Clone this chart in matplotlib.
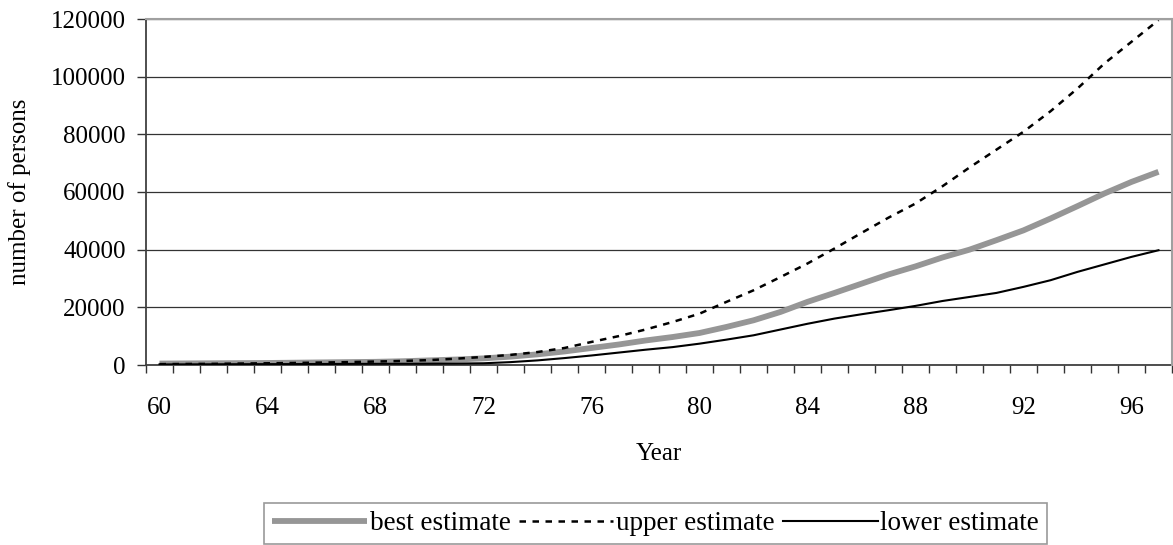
import matplotlib.pyplot as plt
import numpy as np

plt.rcParams['font.family'] = ['Liberation Serif', 'DejaVu Serif']

years = list(range(60, 98))
best = [500, 550, 600, 650, 700, 800, 900, 1000, 1100, 1300,
        1600, 1900, 2300, 2900, 3700, 4700, 5900, 7100, 8500, 9700,
        11100, 13200, 15500, 18400, 21900, 25000, 28200, 31400, 34200, 37300,
        40000, 43300, 46700, 50800, 55100, 59500, 63500, 67000]
upper = [300, 350, 400, 500, 600, 700, 850, 1000, 1200, 1400,
         1700, 2200, 2800, 3500, 4500, 5900, 8000, 10000, 12300, 14900,
         17800, 21900, 25900, 30500, 35200, 40400, 45800, 51100, 56000, 62000,
         68500, 74700, 80900, 88000, 95900, 104600, 112100, 119600]
lower = [200, 220, 250, 280, 300, 320, 350, 380, 400, 420,
         450, 500, 600, 1000, 1600, 2400, 3300, 4300, 5300, 6200,
         7400, 8800, 10300, 12300, 14300, 16100, 17600, 19000, 20500, 22200,
         23600, 25000, 27100, 29400, 32300, 34900, 37500, 39800]
y_ticks = np.arange(0, 120001, 20000)

fig = plt.figure(figsize=(11.73, 5.45), dpi=100)
ax = fig.add_axes([146 / 1173, 1 - 365 / 545, (1172 - 146) / 1173, (365 - 19) / 545])

# Excel-like category axis: points at category centres
x = np.arange(len(years)) + 0.5
ax.plot(x, best, color='#969696', lw=4.2, label='best estimate', solid_capstyle='butt', zorder=3)
ax.plot(x, upper, color='black', lw=1.8, dashes=(2.6, 2.6), label='upper estimate', zorder=4)
ax.plot(x, lower, color='black', lw=1.5, label='lower estimate', zorder=4)

ax.set_xlim(0, len(years))
ax.set_ylim(0, 120000)
ax.set_yticks(y_ticks)
ax.set_yticklabels([str(v) for v in y_ticks])
ax.yaxis.grid(True, color='#333333', lw=0.9)
ax.set_axisbelow(True)

lab_idx = np.arange(0, len(years), 4)
ax.set_xticks(lab_idx + 0.5)
ax.set_xticklabels([str(years[i]) for i in lab_idx])
ax.set_xticks(np.arange(0, len(years) + 1), minor=True)
ax.tick_params(axis='x', which='major', length=0, pad=23, labelsize=18)
ax.tick_params(axis='x', which='minor', direction='out', length=6, width=1, color='#333333')
ax.tick_params(axis='y', direction='out', length=6.5, width=1, pad=8, labelsize=18, color='#333333')

for s in ['left', 'bottom']:
    ax.spines[s].set_color('#404040')
    ax.spines[s].set_linewidth(1.3)
for s in ['top', 'right']:
    ax.spines[s].set_color('#a0a0a0')
    ax.spines[s].set_linewidth(1.5)
    ax.spines[s].set_zorder(5)

ax.set_xlabel('Year', fontsize=18, labelpad=17)
ax.set_ylabel('number of persons', fontsize=18, labelpad=14)

leg = fig.legend(loc='upper left', bbox_to_anchor=(264 / 1173, 1 - 503 / 545), ncol=3,
                 fontsize=19.5, handlelength=3.5, handletextpad=0.1, columnspacing=0.3,
                 frameon=True, fancybox=False, borderaxespad=0, borderpad=0.3)
leg.get_frame().set_edgecolor('#808080')
leg.get_frame().set_linewidth(1.2)

fig.savefig('out.png', dpi=100)
